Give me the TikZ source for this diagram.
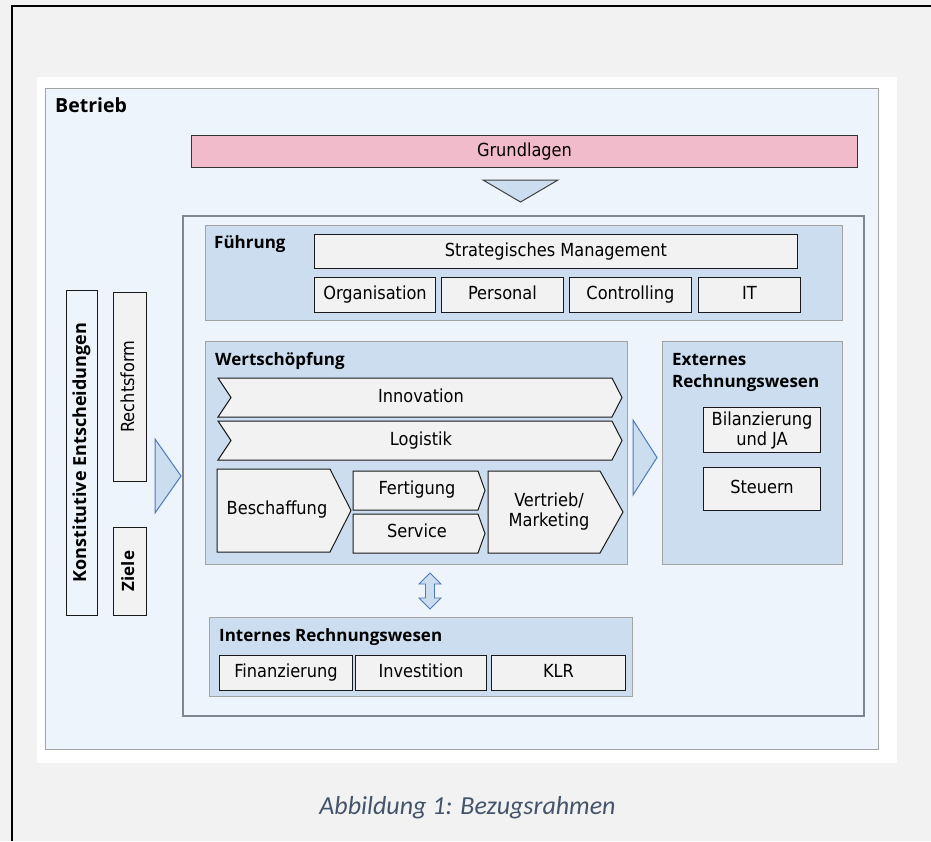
\documentclass[tikz,border=0pt]{standalone}
\usepackage{fontspec}
\usepackage{tikz}
\usetikzlibrary{positioning, calc}

\newfontfamily\boxfont{DejaVu Sans Condensed}
\newfontfamily\headfont{Open Sans}
\newfontfamily\capfont{Carlito}

\definecolor{bgGray}{HTML}{F2F2F2}
\definecolor{lightBlue}{HTML}{EDF4FB}
\definecolor{midBlue}{HTML}{CCDDF0}
\definecolor{frameGray}{HTML}{A3A3A3}
\definecolor{coreGray}{HTML}{7D8792}
\definecolor{itemGray}{HTML}{F2F2F2}
\definecolor{rose}{HTML}{F2BBCC}
\definecolor{arrowBlue}{HTML}{4E78BE}
\definecolor{captionBlue}{HTML}{44546A}

\begin{document}
\begin{tikzpicture}[x=1pt, y=-1pt,
		sectionbox/.style={draw=frameGray, line width=1.2pt, fill=midBlue, anchor=north west, inner sep=0pt},
		boxtext/.style={font=\boxfont\fontsize{18}{20}\selectfont, align=center, inner sep=0pt},
		evenline/.style={text height=13pt, text depth=4pt},
		itembox/.style={boxtext, draw=black!90, line width=1pt, fill=itemGray, anchor=north west},
		cell/.style={itembox, evenline},
		chevbox/.style={draw=black!90, line width=1pt, fill=itemGray, line join=miter},
		headtext/.style={font=\headfont\bfseries\fontsize{17}{22}\selectfont, anchor=base west, inner sep=0pt},
		wedge/.style={draw=arrowBlue, line width=1pt, fill=midBlue, line join=miter}]

		\fill[bgGray] (0,0) rectangle (931,841);
		\useasboundingbox (0,0) rectangle (931,841);
		\draw[black, line width=1.5pt] (12,841) -- (12,6) -- (931,6);
		\fill[white] (37,77) rectangle (897,763);

		\node[draw=frameGray, line width=1.2pt, fill=lightBlue, anchor=north west, inner sep=0pt,
			minimum width=833.5pt, minimum height=661pt] (betrieb) at (44.5,87.5) {};
		\node[headtext, font=\headfont\bfseries\fontsize{19.5}{22}\selectfont,
			below right=24.5pt and 10.5pt of betrieb.north west, anchor=base west] (betriebT) {Betrieb};

		\node[cell, fill=rose, draw=black!80, minimum width=666pt, minimum height=32pt] (grund) at (191,135) {Grundlagen};
		\draw[wedge, draw=black!75] (483,180) -- (558,180) -- (520.5,202) -- cycle;

		\node[draw=coreGray, line width=2pt, fill=lightBlue, anchor=north west, inner sep=0pt,
			minimum width=681pt, minimum height=500pt] (kern) at (182,215) {};

		% Fuehrung
		\node[sectionbox, minimum width=637pt, minimum height=95pt] (fuehrung) at (205,225) {};
		\node[headtext, below right=23pt and 9pt of fuehrung.north west, anchor=base west] (fuehrungT) {Führung};
		\node[cell, minimum width=483pt, minimum height=34pt] (strat) at (314,234) {Strategisches Management};
		\node[cell, minimum width=121pt, minimum height=35pt, below=8pt of strat.south west, anchor=north west] (orga) {Organisation};
		\node[cell, minimum width=122pt, minimum height=35pt, right=5pt of orga] (personal) {Personal};
		\node[cell, minimum width=122pt, minimum height=35pt, right=5pt of personal] (contr) {Controlling};
		\node[cell, minimum width=102pt, minimum height=35pt, right=6pt of contr] (it) {IT};

		% Wertschoepfung
		\node[sectionbox, minimum width=422pt, minimum height=223pt] (wert) at (205,341) {};
		\node[headtext, below right=24pt and 10pt of wert.north west, anchor=base west] (wertT) {Wertschöpfung};
		\draw[chevbox] (218,378) -- (612,378) -- (622,397.5) -- (612,417) -- (218,417) -- (231,397.5) -- cycle;
		\node[boxtext, evenline] (innov) at (421,397.5) {Innovation};
		\draw[chevbox] (218,421) -- (612,421) -- (622,440.5) -- (612,460) -- (218,460) -- (231,440.5) -- cycle;
		\node[boxtext, evenline] (logistik) at (421,440.5) {Logistik};
		\draw[chevbox] (217,469) -- (330,469) -- (351,510.5) -- (330,552) -- (217,552) -- cycle;
		\node[boxtext, evenline] (beschaff) at (277,510) {Beschaffung};
		\draw[chevbox] (353,471) -- (478,471) -- (485,490.5) -- (478,510) -- (353,510) -- cycle;
		\node[boxtext, evenline] (fertig) at (417,490) {Fertigung};
		\draw[chevbox] (353,514) -- (478,514) -- (485,533.5) -- (478,553) -- (353,553) -- cycle;
		\node[boxtext, evenline] (service) at (417,533) {Service};
		\draw[chevbox] (488,471) -- (600,471) -- (623,512) -- (600,553) -- (488,553) -- cycle;
		\node[boxtext] (vertrieb) at (549,512) {Vertrieb/\\Marketing};

		\draw[wedge] (633,420) -- (657,457.5) -- (633,495) -- cycle;

		% Externes Rechnungswesen
		\node[sectionbox, minimum width=180pt, minimum height=223pt] (extern) at (662,341) {};
		\node[headtext, align=left, below right=12pt and 10pt of extern.north west, anchor=north west] (externT) {Externes\\Rechnungswesen};
		\node[itembox, minimum width=117pt, minimum height=45pt] (bilanz) at (703,407) {Bilanzierung\\und JA};
		\node[cell, minimum width=117pt, minimum height=43pt, below=14pt of bilanz] (steuern) {Steuern};

		\draw[wedge, line width=0.9pt] (430,573) -- (441,584) -- (434.5,584) -- (434.5,598) -- (441,598) -- (430,609)
			-- (419,598) -- (425.5,598) -- (425.5,584) -- (419,584) -- cycle;

		% Internes Rechnungswesen
		\node[sectionbox, minimum width=423pt, minimum height=79pt] (intern) at (209,617) {};
		\node[headtext, below right=24pt and 10pt of intern.north west, anchor=base west] (internT) {Internes Rechnungswesen};
		\node[cell, minimum width=133pt, minimum height=35pt] (finanz) at (219,655) {Finanzierung};
		\node[cell, minimum width=131pt, minimum height=35pt, right=2pt of finanz] (invest) {Investition};
		\node[cell, minimum width=134pt, minimum height=35pt, right=4pt of invest] (klr) {KLR};

		% links
		\node[cell, anchor=center, fill=lightBlue, rotate=90, minimum width=325pt, minimum height=31pt,
			font=\headfont\bfseries\fontsize{18}{20}\selectfont] (konst) at (81.5,452.5) {Konstitutive Entscheidungen};
		\node[cell, anchor=center, rotate=90, minimum width=189pt, minimum height=33pt] (rechtsform) at (129.5,386.5) {Rechtsform};
		\node[cell, anchor=center, rotate=90, minimum width=88pt, minimum height=33pt,
			font=\headfont\bfseries\fontsize{17}{20}\selectfont] (ziele) at (129.5,571) {Ziele};
		\draw[wedge] (155,439) -- (181,476) -- (155,513) -- cycle;

		\node[font=\capfont\itshape\fontsize{26}{30}\selectfont, text=captionBlue] (caption) at (467.5,808) {Abbildung 1: Bezugsrahmen};
\end{tikzpicture}
\end{document}
